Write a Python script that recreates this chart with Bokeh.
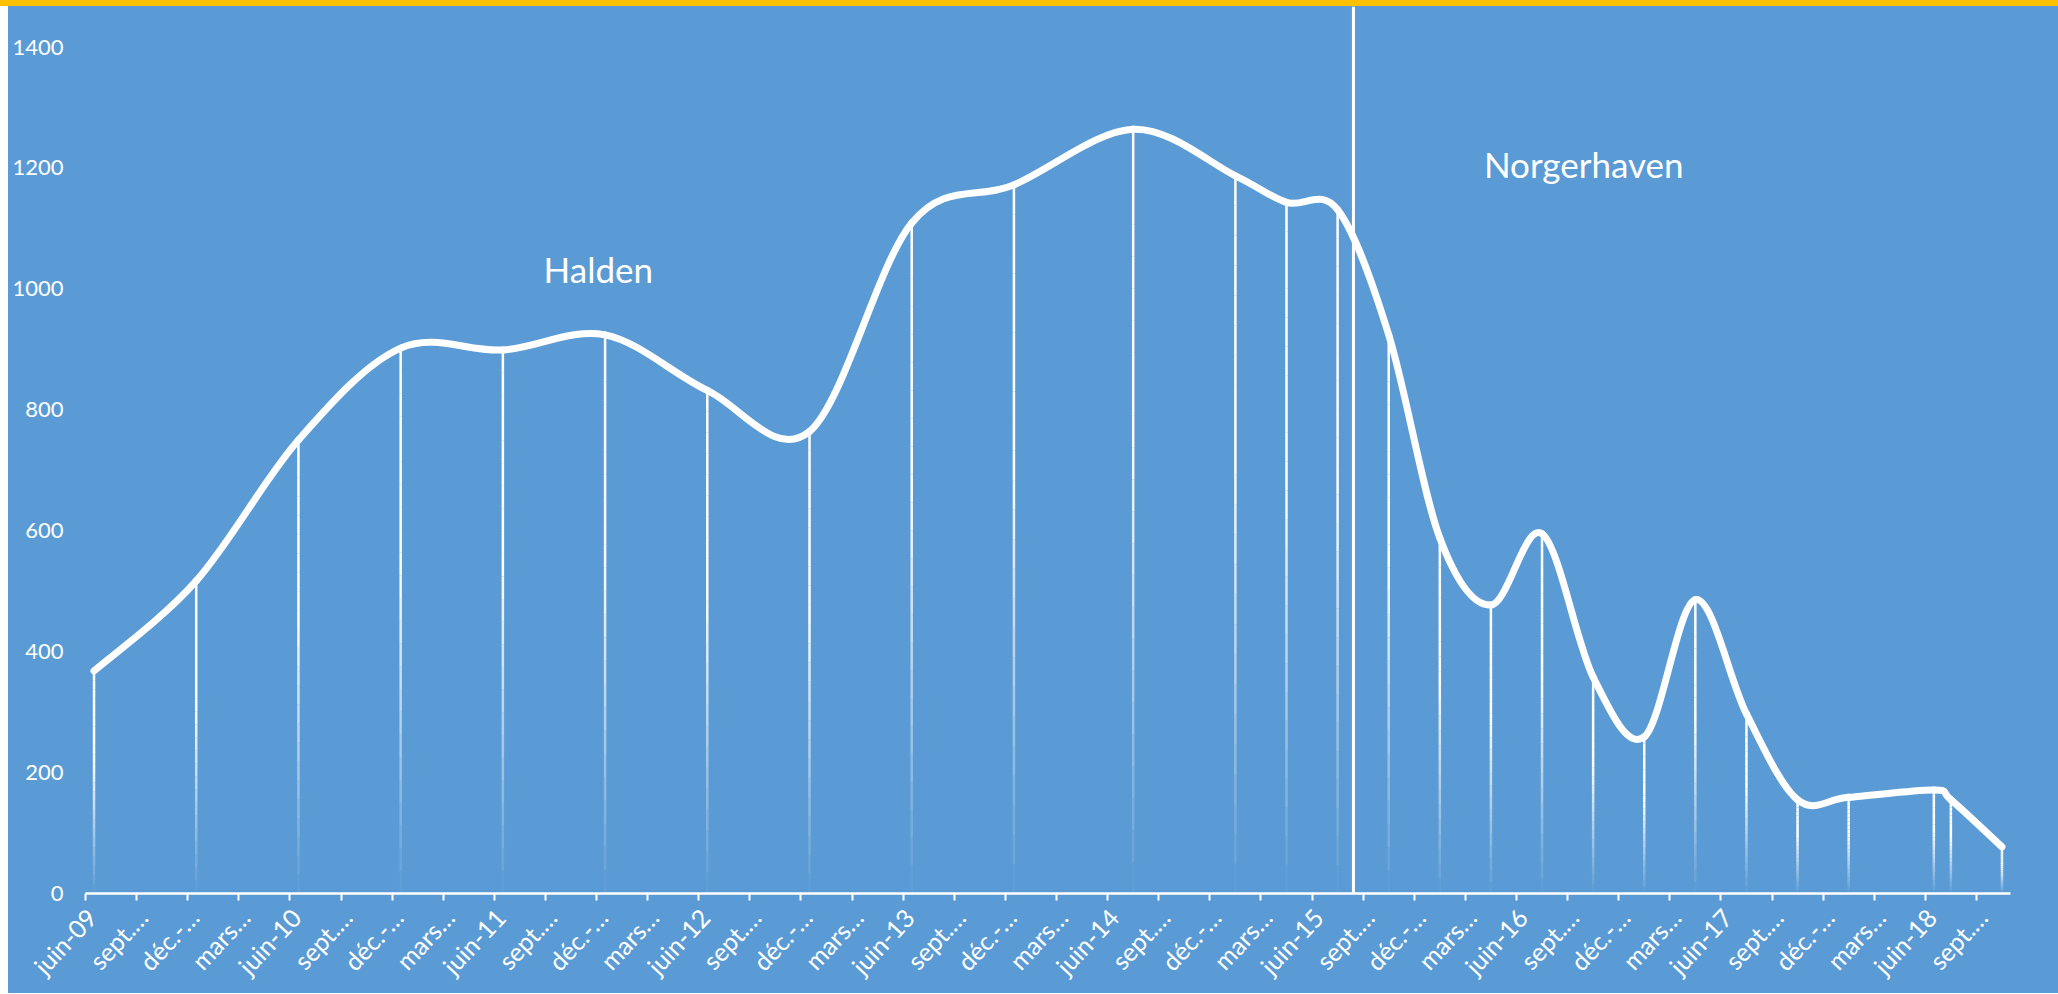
from bokeh.plotting import figure
from bokeh.models import Range1d, FixedTicker, Span, Div, LinearAxis
from bokeh.layouts import column
from bokeh.core.properties import value
from bokeh.embed import file_html
from bokeh.resources import INLINE

# ---------------- data ----------------
months = ["2009-06", "2009-12", "2010-06", "2010-12", "2011-06", "2011-12",
          "2012-06", "2012-12", "2013-06", "2013-12", "2014-07", "2015-01",
          "2015-04", "2015-07", "2015-10", "2016-01", "2016-04", "2016-07",
          "2016-10", "2017-01", "2017-04", "2017-07", "2017-10", "2018-01",
          "2018-06", "2018-07", "2018-10"]
values = [368, 517, 750, 902, 899, 924, 832, 764, 1109, 1172, 1264, 1187,
          1143, 1131, 924, 588, 477, 595, 358, 259, 486, 297, 155, 159,
          171, 155, 77]
tick_labels = ["juin-09", "sept.…", "déc.-…", "mars…",
               "juin-10", "sept.…", "déc.-…", "mars…",
               "juin-11", "sept.…", "déc.-…", "mars…",
               "juin-12", "sept.…", "déc.-…", "mars…",
               "juin-13", "sept.…", "déc.-…", "mars…",
               "juin-14", "sept.…", "déc.-…", "mars…",
               "juin-15", "sept.…", "déc.-…", "mars…",
               "juin-16", "sept.…", "déc.-…", "mars…",
               "juin-17", "sept.…", "déc.-…", "mars…",
               "juin-18", "sept.…"]
y_ticks = [0, 200, 400, 600, 800, 1000, 1200, 1400]
site_names = ["Halden", "Norgerhaven"]

# ---------------- style / layout constants ----------------
BLUE = "#5B9BD5"
YELLOW = "#FFC000"
FONT = "Lato"
site_x = [30.1, 87.95]         # month index positions of the annotations
site_y = [1033, 1207]
separator_x = 74.43            # switch Halden -> Norgerhaven (Aug 2015)
label_shift = 0.35             # labels sit slightly right of their tick marks


def month_index(s):
    y, m = s.split("-")
    return (int(y) - 2009) * 12 + (int(m) - 6)


xs = [month_index(s) + 0.5 for s in months]   # points sit between tick marks
n = len(xs)
tick_pos = [3 * i for i in range(len(tick_labels))]
label_pos = [t + label_shift for t in tick_pos]

p = figure(width=2050, height=987, output_backend="svg", toolbar_location=None,
           x_range=Range1d(0, 113), y_range=Range1d(0, 1467),
           min_border_left=77, min_border_right=48, min_border_top=0,
           min_border_bottom=100, margin=(0, 0, 0, 8))
p.styles = {"background-color": BLUE}
p.background_fill_color = BLUE
p.border_fill_color = BLUE
p.outline_line_color = None
p.xgrid.visible = False
p.ygrid.visible = False

# y axis: labels only (no line, no ticks, no tick space)
p.yaxis.ticker = FixedTicker(ticks=y_ticks)
p.yaxis.axis_line_color = None
p.yaxis.major_tick_line_color = None
p.yaxis.minor_tick_line_color = None
p.yaxis.major_tick_out = 0
p.yaxis.major_tick_in = 0
p.yaxis.minor_tick_out = 0
p.yaxis.minor_tick_in = 0
p.yaxis.major_label_standoff = 22
p.yaxis.major_label_text_color = "white"
p.yaxis.major_label_text_font = FONT
p.yaxis.major_label_text_font_size = "22px"

# x axis: line + tick marks (labels drawn by a second axis just below)
p.xaxis.ticker = FixedTicker(ticks=tick_pos)
p.xaxis.major_label_overrides = {t: "" for t in tick_pos}
p.xaxis.major_label_text_font_size = "1px"
p.xaxis.major_label_standoff = 0
p.xaxis.axis_line_color = "white"
p.xaxis.axis_line_width = 2.5
p.xaxis.major_tick_line_color = "white"
p.xaxis.major_tick_line_width = 2
p.xaxis.major_tick_out = 7
p.xaxis.major_tick_in = 0
p.xaxis.minor_tick_line_color = None

label_axis = LinearAxis(ticker=FixedTicker(ticks=label_pos),
                        major_label_overrides={t: lab for t, lab in zip(label_pos, tick_labels)},
                        major_label_orientation=0.82,
                        axis_line_color=None, major_tick_line_color=None,
                        minor_tick_line_color=None, major_label_standoff=6,
                        major_label_text_color="white",
                        major_label_text_font=FONT,
                        major_label_text_font_size="25px")
p.add_layout(label_axis, "below")

# drop lines with a fade towards the axis (white at top, transparent at bottom)
N = 24
sx0, sy0, sy1, salpha = [], [], [], []
for x, v in zip(xs, values):
    for k in range(N):
        f0 = k / N
        f1 = (k + 1) / N
        fm = (f0 + f1) / 2
        sx0.append(x)
        sy0.append(v * f0)
        sy1.append(v * f1)
        salpha.append(min(1.0, fm / 0.6))
p.segment(x0=sx0, y0=sy0, x1=sx0, y1=sy1, line_color="white",
          line_width=2.5, line_alpha=salpha)

# separator line
p.add_layout(Span(location=separator_x, dimension="height",
                  line_color="white", line_width=3))

# smoothed line (Catmull-Rom style Bezier segments, like Excel's smoothing)
bx0, by0, bx1, by1, cx0, cy0, cx1, cy1 = ([] for _ in range(8))
for i in range(n - 1):
    i0 = max(i - 1, 0)
    i3 = min(i + 2, n - 1)
    bx0.append(xs[i]); by0.append(values[i])
    bx1.append(xs[i + 1]); by1.append(values[i + 1])
    cx0.append(xs[i] + (xs[i + 1] - xs[i0]) / 6)
    cy0.append(values[i] + (values[i + 1] - values[i0]) / 6)
    cx1.append(xs[i + 1] - (xs[i3] - xs[i]) / 6)
    cy1.append(values[i + 1] - (values[i3] - values[i]) / 6)
p.bezier(x0=bx0, y0=by0, x1=bx1, y1=by1, cx0=cx0, cy0=cy0, cx1=cx1, cy1=cy1,
         line_color="white", line_width=7, line_cap="round")

# site labels
p.text(x=site_x, y=site_y, text=site_names, text_color="white",
       text_font=value(FONT), text_font_size="35px", text_align="center",
       text_baseline="alphabetic")

top_band = Div(text="", width=2058, height=6, margin=0,
               styles={"background-color": YELLOW})
layout = column(top_band, p, spacing=0, margin=0)

open("out.html", "w").write(file_html(layout, INLINE))
